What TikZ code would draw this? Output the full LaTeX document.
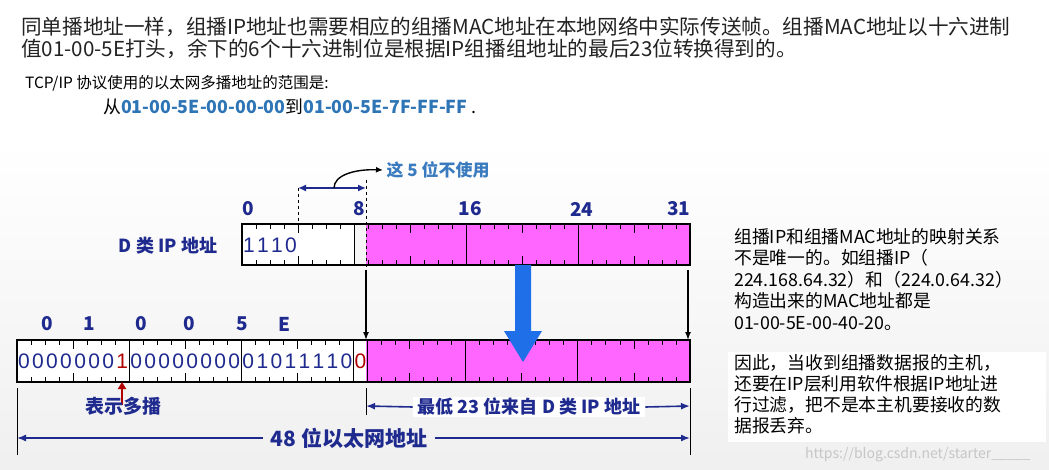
\documentclass[tikz,border=0pt]{standalone}
\usepackage{fontspec}
\setmainfont{Noto Sans CJK SC}
\newfontfamily\monof{Liberation Sans}
\usetikzlibrary{arrows.meta}
\definecolor{navy}{HTML}{1F2A8F}
\definecolor{lblue}{HTML}{3A7BBF}
\definecolor{abl}{HTML}{2E75B6}
\definecolor{mag}{HTML}{FF66FF}
\definecolor{bigb}{HTML}{1E6FE8}
\definecolor{txt}{HTML}{222222}
\definecolor{dred}{HTML}{B00000}
\tikzset{
 lab/.style={text=navy,font=\bfseries\fontsize{18}{18}\selectfont,inner sep=1pt},
 para/.style={text=txt,font=\fontsize{20.6}{22}\selectfont,anchor=north west,align=left,inner sep=0pt},
 bitc/.style={text=navy,font=\monof\fontsize{21}{21}\selectfont,inner sep=0pt},
 dim/.style={navy,line width=1.6pt,-{Latex[length=9pt,width=7pt]}},
}
\begin{document}
\begin{tikzpicture}[x=1pt,y=-1pt]
\useasboundingbox (0,0) rectangle (1049,470);
\shade[top color=white,bottom color=gray!12] (0,140) rectangle (1049,470);
\fill[white] (728,352) rectangle (1046,442);
% header text
\node[para] (p1) at (21,17) {同单播地址一样，组播IP地址也需要相应的组播MAC地址在本地网络中实际传送帧。组播MAC地址以十六进制\\值01-00-5E打头，余下的6个十六进制位是根据IP组播组地址的最后23位转换得到的。};
\node[para,font=\fontsize{15.5}{16}\selectfont,text=black] (p2) at (25,75) {TCP/IP 协议使用的以太网多播地址的范围是:};
\node[para,font=\fontsize{17.8}{18}\selectfont,text=black] (p3) at (103,99) {从{\bfseries\color{abl}01-00-5E-00-00-00}到{\bfseries\color{abl}01-00-5E-7F-FF-FF} .};
% right text
\node[para,font=\fontsize{17.8}{21.5}\selectfont,text=black] (r1) at (734,228) {组播IP和组播MAC地址的映射关系\\不是唯一的。如组播IP（\\224.168.64.32）和（224.0.64.32）\\构造出来的MAC地址都是\\01-00-5E-00-40-20。};
\node[para,font=\fontsize{17.8}{21}\selectfont,text=black] (r2) at (734,354) {因此，当收到组播数据报的主机，\\还要在IP层利用软件根据IP地址进\\行过滤，把不是本主机要接收的数\\据报丢弃。};
\node[text=gray!45,font=\fontsize{14}{14}\selectfont,anchor=south west,inner sep=0pt] (wm) at (805,462) {https://blog.csdn.net/starter\_\_\_\_\_};
% IP box
\fill[white] (242,224) rectangle (354,265);
\fill[gray!8] (354,224) rectangle (366,265);
\fill[mag] (366,224) rectangle (690,265);
\foreach \i in {1,...,31}{
  \pgfmathsetmacro\xx{242+\i*14}
  \pgfmathtruncatemacro\m{mod(\i,4)}
  \ifnum\m=0 \def\tl{9}\else\def\tl{5}\fi
  \draw[line width=0.7pt] (\xx,224) -- ++(0,\tl) (\xx,265) -- ++(0,-\tl);
}
\foreach \i in {8,16,24}{\draw[line width=0.9pt] ({242+\i*14},224) -- ({242+\i*14},265);}
\draw[line width=1.6pt] (242,224) rectangle (690,265);
\foreach \c [count=\k from 0] in {1,1,1,0}{\node[bitc] at ({249+\k*14},245) {\c};}
\node[lab] (dip) at (168,246) {D 类 IP 地址};
\foreach \n/\b in {0/0,8/8,16/16,24/24,31/31}{\node[lab,font=\bfseries\fontsize{19}{19}\selectfont] at ({248+\b*13.9},209) {\n};}
% dashed guides
\draw[dashed,line width=0.8pt] (298,188) -- (298,224);
\draw[dashed,line width=0.8pt] (366,180) -- (366,270);
\coordinate (d1) at (298,188); \coordinate (d2) at (366,188);
\draw[navy,line width=1.6pt,{Latex[length=8pt,width=7pt]}-{Latex[length=8pt,width=7pt]}] (d1) -- (d2);
\node[text=lblue,font=\bfseries\fontsize{17}{17}\selectfont,anchor=west] (five) at (383,170) {这 5 位不使用};
\draw[line width=1.4pt,-{Latex[length=7pt,width=6pt]}] (334,188) .. controls (334,175) and (355,169) .. (five.west);
% MAC box
\fill[white] (17,340) rectangle (366,382);
\fill[mag] (366,340) rectangle (690,382);
\foreach \i in {1,...,47}{
  \pgfmathsetmacro\xx{17+\i*14.02}
  \pgfmathtruncatemacro\m{mod(\i,4)}
  \ifnum\m=0 \def\tl{9}\else\def\tl{5}\fi
  \draw[line width=0.7pt] (\xx,340) -- ++(0,\tl) (\xx,382) -- ++(0,-\tl);
}
\foreach \i in {8,16,24,25,32,40}{\draw[line width=0.9pt] ({17+\i*14.02},340) -- ({17+\i*14.02},382);}
\draw[line width=1.6pt] (17,340) rectangle (690,382);
\foreach \c [count=\k from 0] in {0,0,0,0,0,0,0,1,0,0,0,0,0,0,0,0,0,1,0,1,1,1,1,0,0}{
  \pgfmathsetmacro\xx{17+(\k+0.5)*14.02}
  \ifnum\k=7 \node[bitc,text=dred] at (\xx,361) {\c};
  \else\ifnum\k=24 \node[bitc,text=dred] at (\xx,361) {\c};
  \else \node[bitc] at (\xx,361) {\c};\fi\fi
}
\foreach \h/\x in {0/47,1/89,0/141,0/189,5/242,E/284}{\node[lab,font=\bfseries\fontsize{19}{19}\selectfont] at (\x,324) {\h};}
% mapping arrows
\coordinate (a1) at (366,270); \coordinate (a2) at (366,340);
\coordinate (b1) at (688,270); \coordinate (b2) at (688,340);
\draw[line width=1.4pt,-{Latex[length=8pt,width=6pt]}] (a1) -- (a2);
\draw[line width=1.4pt,-{Latex[length=8pt,width=6pt]}] (b1) -- (b2);
\fill[bigb] (515,265) rectangle (531,331) (504,331) -- (542,331) -- (523,362) -- cycle;
% bottom annotations
\coordinate (m1) at (122,405); \coordinate (m2) at (122,382);
\draw[dred,line width=2.2pt,-{Triangle[length=7pt,width=8pt]}] (m1) -- (m2);
\node[lab,font=\bfseries\fontsize{19}{19}\selectfont] (mc) at (123,406) {表示多播};
\draw[line width=1pt] (17,388) -- (17,455) (690,388) -- (690,455) (366,388) -- (366,415);
\node[lab,fill=white,font=\bfseries\fontsize{18}{18}\selectfont,inner xsep=5pt] (low) at (529,407) {最低 23 位来自 D 类 IP 地址};
\coordinate (l1) at (366,406); \coordinate (l2) at (690,406);
\draw[dim] (low.west) -- (l1); \draw[dim] (low.east) -- (l2);
\node[lab,font=\bfseries\fontsize{21}{21}\selectfont,inner xsep=8pt] (eth) at (349,438) {48 位以太网地址};
\coordinate (e1) at (17,438); \coordinate (e2) at (690,438);
\draw[dim] (eth.west) -- (e1); \draw[dim] (eth.east) -- (e2);
\end{tikzpicture}
\end{document}
